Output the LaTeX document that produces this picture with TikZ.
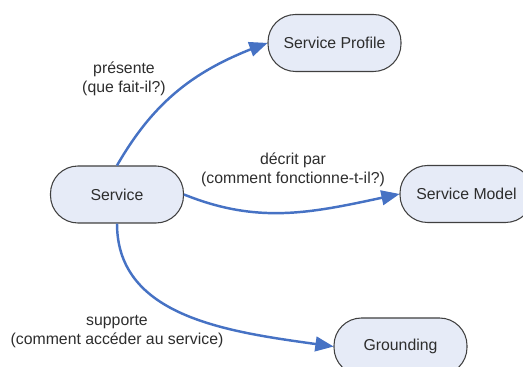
\documentclass[tikz,border=0pt]{standalone}
\usepackage{fontspec}
\setmainfont{Liberation Sans}
\usepackage{tikz}
\usetikzlibrary{arrows}
\definecolor{boxfill}{RGB}{230,235,247}
\definecolor{boxline}{RGB}{64,64,64}
\definecolor{arrowblue}{RGB}{70,114,196}
\definecolor{txt}{RGB}{45,45,45}

\begin{document}
\begin{tikzpicture}[
	    bloc/.style={rectangle, rounded corners=0.55cm, fill=boxfill, draw=boxline, line width=0.6pt, minimum width=2.66cm, minimum height=1.14cm, text=txt, font=\fontsize{9}{11}\selectfont},
	    lien/.style={draw=arrowblue, line width=1.4pt, -triangle 45},
	    etiq/.style={align=center, text=txt, font=\fontsize{9}{10.8}\selectfont}
	]
	    \useasboundingbox (0,0) rectangle (10.46,7.34);
	    \node[bloc] (service) at (2.34,3.45) {Service};
	    \node[bloc] (profile) at (6.69,6.48) {Service Profile};
	    \node[bloc] (model) at (9.33,3.46) {Service Model};
	    \node[bloc] (grounding) at (8.01,0.41) {Grounding};
	    \draw[lien] (service.north) to[out=60, in=200] (profile.west);
	    \draw[lien] (service.east) to[out=-22, in=192] (model.west);
	    \draw[lien] (service.south) to[out=-90, in=172] (grounding.west);
	    \node[etiq] (presente) at (2.48,5.76) {présente\\(que fait-il?)};
	    \node[etiq] (decrit) at (5.86,3.94) {décrit par\\(comment fonctionne-t-il?)};
	    \node[etiq] (supporte) at (2.34,0.70) {supporte\\(comment accéder au service)};
    \end{tikzpicture}
\end{document}
